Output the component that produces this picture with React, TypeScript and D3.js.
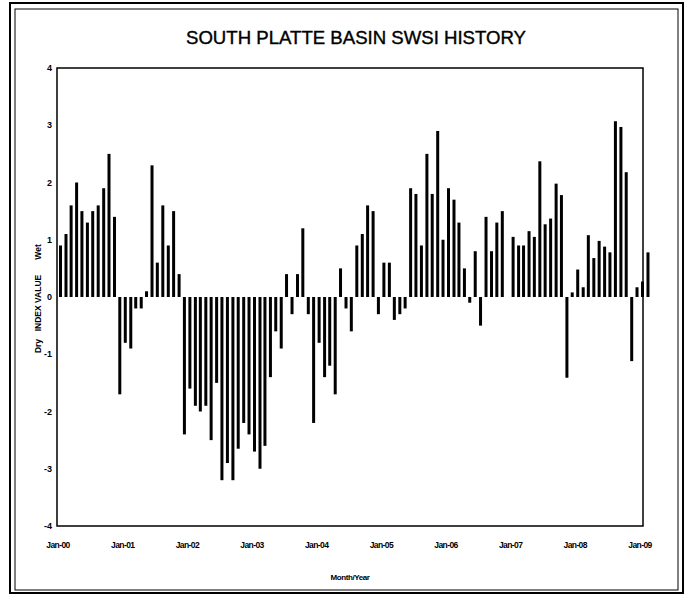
import * as d3 from "d3";

// SWSI monthly index values, Jan-2000 onward
const swsiValues = [
  0.9, 1.1, 1.6, 2.0, 1.5, 1.3, 1.5, 1.6, 1.9, 2.5, 1.4, -1.7,
  -0.8, -0.9, -0.2, -0.2, 0.1, 2.3, 0.6, 1.6, 0.9, 1.5, 0.4, -2.4,
  -1.6, -1.9, -2.0, -1.9, -2.5, -1.5, -3.2, -2.9, -3.2, -2.65, -2.2, -2.4,
  -2.7, -3.0, -2.6, -1.4, -0.6, -0.9, 0.4, -0.3, 0.4, 1.2, -0.3, -2.2,
  -0.8, -1.4, -1.2, -1.7, 0.5, -0.2, -0.6, 0.9, 1.1, 1.6, 1.5, -0.3,
  0.6, 0.6, -0.4, -0.3, -0.2, 1.9, 1.8, 0.9, 2.5, 1.8, 2.9, 1.0,
  1.9, 1.7, 1.3, 0.5, -0.1, 0.8, -0.5, 1.4, 0.8, 1.3, 1.5, 0,
  1.05, 0.9, 0.9, 1.15, 1.05, 2.37, 1.27, 1.37, 1.98, 1.78, -1.41, 0.08,
  0.48, 0.17, 1.08, 0.68, 0.98, 0.88, 0.78, 3.07, 2.97, 2.18, -1.12, 0.17,
  0.27, 0.78,
];

const xTickLabels = ["Jan-00", "Jan-01", "Jan-02", "Jan-03", "Jan-04", "Jan-05", "Jan-06", "Jan-07", "Jan-08", "Jan-09"];
const yTicks = [4, 3, 2, 1, 0, -1, -2, -3, -4];

const W = 687;
const H = 597;
const font = "'Liberation Sans', Arial, sans-serif";

export default function App() {
  const start = new Date(2000, 0, 1);
  const x = d3.scaleTime().domain([start, new Date(2009, 0, 1)]).range([58, 640]);
  const y = d3.scaleLinear().domain([-4, 4]).range([526, 68]);
  const plotLeft = 57;
  const plotRight = 643;

  const bars = swsiValues.map((v, i) => ({ date: d3.timeMonth.offset(start, i), value: v }));

  return (
    <svg width={W} height={H} style={{ position: "absolute", left: 0, top: 0, background: "#fff" }}>
      {/* outer double frame */}
      <rect x={10} y={3} width={673} height={590} fill="none" stroke="#000" strokeWidth={2} />
      <rect x={15} y={9} width={663} height={581} fill="none" stroke="#000" strokeWidth={1} />

      <text x={356} y={44} textAnchor="middle" fontFamily={font} fontSize={19} textLength={340} lengthAdjust="spacingAndGlyphs" fill="#000" stroke="#000" strokeWidth={0.4}>
        SOUTH PLATTE BASIN SWSI HISTORY
      </text>

      {/* bars */}
      {bars.map((b, i) => {
        const x0 = x(b.date) + 1;
        const y0 = y(Math.max(0, b.value));
        const y1 = y(Math.min(0, b.value));
        return <rect key={i} x={x0} y={y0} width={3} height={Math.max(0, y1 - y0)} fill="#000" />;
      })}

      {/* plot frame */}
      <rect x={plotLeft} y={y(4)} width={plotRight - plotLeft} height={y(-4) - y(4)} fill="none" stroke="#000" strokeWidth={1.5} />

      {/* y tick labels */}
      {yTicks.map((t) => (
        <text key={t} x={52} y={y(t)} dy="0.35em" textAnchor="end" fontFamily={font} fontSize={9} fontWeight="bold" fill="#000">
          {t}
        </text>
      ))}

      {/* x tick labels */}
      {xTickLabels.map((lab, k) => (
        <text key={lab} x={x(new Date(2000 + k, 0, 1))} y={548} textAnchor="middle" fontFamily={font} fontSize={8.5} fontWeight="bold" letterSpacing={-0.6} fill="#000">
          {lab}
        </text>
      ))}

      <text x={350} y={580} textAnchor="middle" fontFamily={font} fontSize={8} fontWeight="bold" letterSpacing={-0.4} fill="#000">
        Month/Year
      </text>

      {/* y axis title */}
      <g transform="translate(38,0)" fontFamily={font} fontSize={8.5} fontWeight="bold" fill="#000">
        <text transform="translate(0,252) rotate(-90)" textAnchor="middle" dy="0.35em">Wet</text>
        <text transform="translate(0,303) rotate(-90)" textAnchor="middle" dy="0.35em">INDEX VALUE</text>
        <text transform="translate(0,346) rotate(-90)" textAnchor="middle" dy="0.35em">Dry</text>
      </g>
    </svg>
  );
}
